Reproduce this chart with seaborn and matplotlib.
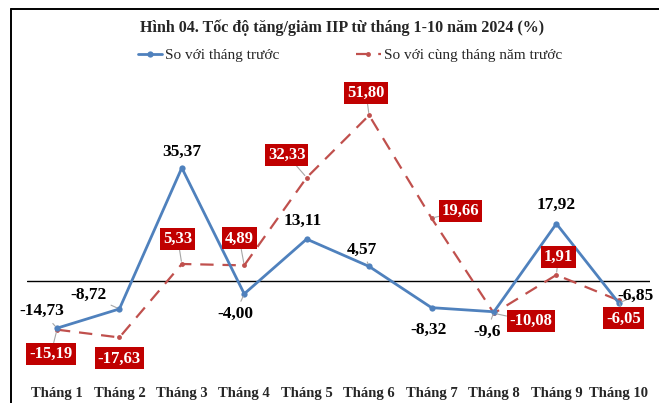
import matplotlib
matplotlib.use("Agg")
import matplotlib.pyplot as plt
from matplotlib.lines import Line2D
import seaborn as sns
import pandas as pd
import numpy as np

months = ["Tháng 1", "Tháng 2", "Tháng 3", "Tháng 4", "Tháng 5",
          "Tháng 6", "Tháng 7", "Tháng 8", "Tháng 9", "Tháng 10"]
mom = [-14.73, -8.72, 35.37, -4.00, 13.11, 4.57, -8.32, -9.6, 17.92, -6.85]
yoy = [-15.19, -17.63, 5.33, 4.89, 32.33, 51.80, 19.66, -10.08, 1.91, -6.05]
mom_labels = ["-14,73", "-8,72", "35,37", "-4,00", "13,11", "4,57", "-8,32", "-9,6", "17,92", "-6,85"]
yoy_labels = ["-15,19", "-17,63", "5,33", "4,89", "32,33", "51,80", "19,66", "-10,08", "1,91", "-6,05"]
title = "Hình 04. Tốc độ tăng/giảm IIP từ tháng 1-10 năm 2024 (%)"
name_mom = "So với tháng trước"
name_yoy = "So với cùng tháng năm trước"

# label offsets (pixels) - styling
mom_off = [(-15, 17), (-31, 14), (0, 16), (-9, -20), (-4, 18), (-7, 17), (-3, -22), (-7, -20), (0, 19), (17, 7)]
mom_lead = [True, True, False, True, False, True, False, True, False, True]
yoy_off = [(-6, -24), (0, -21), (-4, 25), (-5, 27), (-20, 23), (-3, 22), (29, 7), (37, -8), (2, 18), (5, -18)]
yoy_lead = [True, False, True, True, True, True, True, True, True, True]

BLUE = "#4F81BD"
RED = "#C0504D"
BOX = "#C00000"
SERIF = ["Liberation Serif", "DejaVu Serif"]

sns.set_theme(style="white")
plt.rcParams["font.family"] = SERIF

df = pd.DataFrame({"x": np.arange(len(months)), "mom": mom, "yoy": yoy})

fig = plt.figure(figsize=(6.59, 4.03), dpi=100)
W, H = 659, 403
ax = fig.add_axes([27 / W, (H - 370) / H, (650 - 27) / W, (370 - 90) / H])

sns.lineplot(data=df, x="x", y="mom", ax=ax, color=BLUE, lw=2.0,
             marker="o", markersize=4.5, markeredgewidth=0, label=name_mom, zorder=3)
sns.lineplot(data=df, x="x", y="yoy", ax=ax, color=RED, lw=1.6,
             marker="o", markersize=3.5, markeredgewidth=0, label=name_yoy, zorder=2)
ax.lines[-1].set_dashes([6, 4])

ax.axhline(0, color="black", lw=1.0, zorder=1)

ax.set_xlim(-0.48, 9.5)
ax.set_ylim(-27.8, 59.7)
ax.set_xticks(df["x"])
ax.set_xticklabels(months, fontsize=10.5, fontweight="bold", family=SERIF)
ax.tick_params(axis="x", length=0, pad=12.5)
ax.set_yticks([])
ax.set_xlabel("")
ax.set_ylabel("")
for s in ax.spines.values():
    s.set_visible(False)

handles, labels = ax.get_legend_handles_labels()
ax.get_legend().remove()
fig.legend(handles, labels, loc="center", bbox_to_anchor=(350 / W, 1 - 55 / H), ncol=2,
           frameon=False, handlelength=1.6, handletextpad=0.2,
           columnspacing=5.0, prop={"family": SERIF, "size": 11})

for i, (v, t) in enumerate(zip(mom, mom_labels)):
    ap = dict(arrowstyle="-", color="#A6A6A6", lw=0.8, shrinkA=1, shrinkB=2) if mom_lead[i] else None
    ax.annotate(t, (i, v), xytext=mom_off[i], textcoords="offset pixels",
                ha="center", va="center", fontsize=12.5, fontweight="bold",
                color="black", arrowprops=ap, zorder=5)

for i, (v, t) in enumerate(zip(yoy, yoy_labels)):
    ap = dict(arrowstyle="-", color="#A6A6A6", lw=0.8, shrinkA=0, shrinkB=2) if yoy_lead[i] else None
    ax.annotate(t, (i, v), xytext=yoy_off[i], textcoords="offset pixels",
                ha="center", va="center", fontsize=12, fontweight="bold",
                color="white", arrowprops=ap, zorder=6,
                bbox=dict(boxstyle="square,pad=0.18", fc=BOX, ec="none"))

fig.text(342 / W, 1 - 28 / H, title, ha="center", va="center", fontsize=11.5, fontweight="bold")

# outer frame (top and left)
fig.add_artist(Line2D([11 / W, 1], [1 - 9 / H, 1 - 9 / H], color="black", lw=1.4))
fig.add_artist(Line2D([11 / W, 11 / W], [0, 1 - 9 / H], color="black", lw=1.4))

fig.savefig("out.png", dpi=100)
